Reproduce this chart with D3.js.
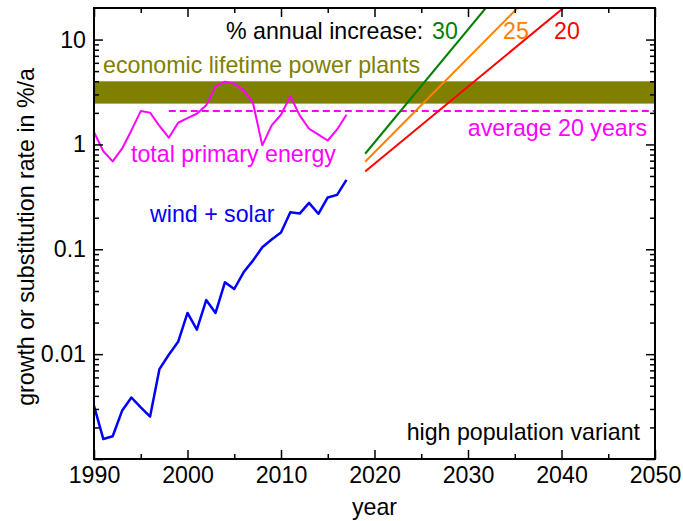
<!DOCTYPE html>
<html><head><meta charset="utf-8">
<script src="https://cdn.jsdelivr.net/npm/d3@7"></script>
<style>body{margin:0;background:#fff} text{font-family:"Liberation Sans",Arial,Helvetica,sans-serif}</style>
</head><body><svg id="c" width="683" height="521"></svg>
<script>
// ---- data ----
const years = [1990,1991,1992,1993,1994,1995,1996,1997,1998,1999,2000,2001,2002,2003,2004,2005,2006,2007,2008,2009,2010,2011,2012,2013,2014,2015,2016,2017];
const primaryEnergy = [1.31,0.86,0.69,0.91,1.36,2.08,2.01,1.5,1.16,1.61,1.78,1.96,2.36,3.58,3.97,3.8,3.28,2.5,0.98,1.52,1.92,2.89,1.89,1.41,1.24,1.09,1.39,1.92];
const windSolar = [0.00321,0.00155,0.00165,0.00288,0.00386,0.0031,0.00254,0.0072,0.00986,0.0131,0.0247,0.0171,0.0328,0.0247,0.0484,0.0418,0.0603,0.078,0.1045,0.124,0.1444,0.2256,0.219,0.277,0.218,0.312,0.33,0.46];
const lifetimeBand = [2.45, 4.0];
const averageYears = [1998, 2050];
const averageValue = 2.08;
const growthLabels = ["30", "25", "20"];
const growthColors = ["#008000", "#ff8000", "#ff0000"];
const growthStartYear = [2019, 2019, 2019];
const growthStartValue = [0.815, 0.684, 0.552];
const growthEndYear = [2031.9, 2035.3, 2040.2];
const growthEndValue = [20, 20, 20];
const xMajorTicks = [1990, 2000, 2010, 2020, 2030, 2040, 2050];
const xMinorTicks = [1995, 2005, 2015, 2025, 2035, 2045];
const yMajorTicks = [0.001, 0.01, 0.1, 1, 10];
const yTickLabels = {"0.01":"0.01","0.1":"0.1","1":"1","10":"10"};
const yMinorTicks = [0.002,0.003,0.004,0.005,0.006,0.007,0.008,0.009,0.02,0.03,0.04,0.05,0.06,0.07,0.08,0.09,0.2,0.3,0.4,0.5,0.6,0.7,0.8,0.9,2,3,4,5,6,7,8,9];

// ---- layout ----
const L = 94, R = 655, T = 8, B = 459;
const svg = d3.select("#c");
const x = d3.scaleLinear().domain([1990, 2050]).range([L, R]);
const y = d3.scaleLog().domain([0.001, 20]).range([B, T]);
const FS = "23.2px";

svg.append("defs").append("clipPath").attr("id","clip")
  .append("rect").attr("x",L).attr("y",T).attr("width",R-L).attr("height",B-T);
const plot = svg.append("g").attr("clip-path","url(#clip)");

// band
plot.append("rect").attr("x", x(1990)).attr("width", x(2050)-x(1990))
  .attr("y", y(lifetimeBand[1])).attr("height", y(lifetimeBand[0]) - y(lifetimeBand[1]))
  .attr("fill", "#808000");

// average dashed
plot.append("line").attr("x1", x(averageYears[0])).attr("x2", x(averageYears[1]))
  .attr("y1", y(averageValue)).attr("y2", y(averageValue))
  .attr("stroke", "#ff00ff").attr("stroke-width", 2).attr("stroke-dasharray", "7,4");

const line = d3.line().x(d => x(d[0])).y(d => y(d[1]));
plot.append("path").datum(years.map((yr,i)=>[yr, primaryEnergy[i]]))
  .attr("d", line).attr("fill","none").attr("stroke","#ff00ff").attr("stroke-width",2).attr("stroke-linejoin","round");
plot.append("path").datum(years.map((yr,i)=>[yr, windSolar[i]]))
  .attr("d", line).attr("fill","none").attr("stroke","#0000ff").attr("stroke-width",2.5).attr("stroke-linejoin","round");

growthLabels.forEach((g,i) => {
  plot.append("path").datum([[growthStartYear[i], growthStartValue[i]],[growthEndYear[i], growthEndValue[i]]])
    .attr("d", line).attr("fill","none").attr("stroke", growthColors[i]).attr("stroke-width", 2);
});

// axes
function addAxis(axisFn, scale, ticks, size, transform, fmt) {
  const a = axisFn(scale).tickValues(ticks).tickSizeInner(-size).tickSizeOuter(0).tickPadding(8)
    .tickFormat(fmt || (() => ""));
  const g = svg.append("g").attr("transform", transform).call(a);
  g.select(".domain").remove();
  g.selectAll("line").attr("stroke","#000").attr("stroke-width",1.5);
  g.selectAll("text").style("font-size", FS).attr("fill","#000");
  return g;
}
addAxis(d3.axisBottom, x, xMajorTicks, 9, `translate(0,${B})`, d => d);
addAxis(d3.axisBottom, x, xMinorTicks, 5, `translate(0,${B})`);
addAxis(d3.axisTop, x, xMajorTicks, 9, `translate(0,${T})`);
addAxis(d3.axisTop, x, xMinorTicks, 5, `translate(0,${T})`);
addAxis(d3.axisLeft, y, yMajorTicks, 9, `translate(${L},0)`, d => yTickLabels[String(d)] || "");
addAxis(d3.axisLeft, y, yMinorTicks, 5, `translate(${L},0)`);
addAxis(d3.axisRight, y, yMajorTicks, 9, `translate(${R},0)`);
addAxis(d3.axisRight, y, yMinorTicks, 5, `translate(${R},0)`);

svg.append("rect").attr("x",L).attr("y",T).attr("width",R-L).attr("height",B-T)
  .attr("fill","none").attr("stroke","#000").attr("stroke-width",2);

// texts
function txt(s, xx, yy, color, anchor) {
  return svg.append("text").attr("x", xx).attr("y", yy).attr("fill", color)
    .attr("text-anchor", anchor || "start").style("font-size", FS).text(s);
}
txt("% annual increase:", 226, 39, "#000");
txt(growthLabels[0], 432, 39, growthColors[0]);
txt(growthLabels[1], 503, 39, growthColors[1]);
txt(growthLabels[2], 554, 39, growthColors[2]);
txt("economic lifetime power plants", 103, 72.5, "#808000");
txt("average 20 years", 647, 136, "#ff00ff", "end");
txt("total primary energy", 131, 161.5, "#ff00ff");
txt("wind + solar", 150, 221.5, "#0000ff");
txt("high population variant", 640, 439.5, "#000", "end");
txt("year", x(2020), 514.5, "#000", "middle");
svg.append("text").attr("transform", "translate(34,237) rotate(-90)").attr("text-anchor","middle")
  .style("font-size", FS).attr("fill","#000").text("growth or substitution rate in %/a");
</script></body></html>
